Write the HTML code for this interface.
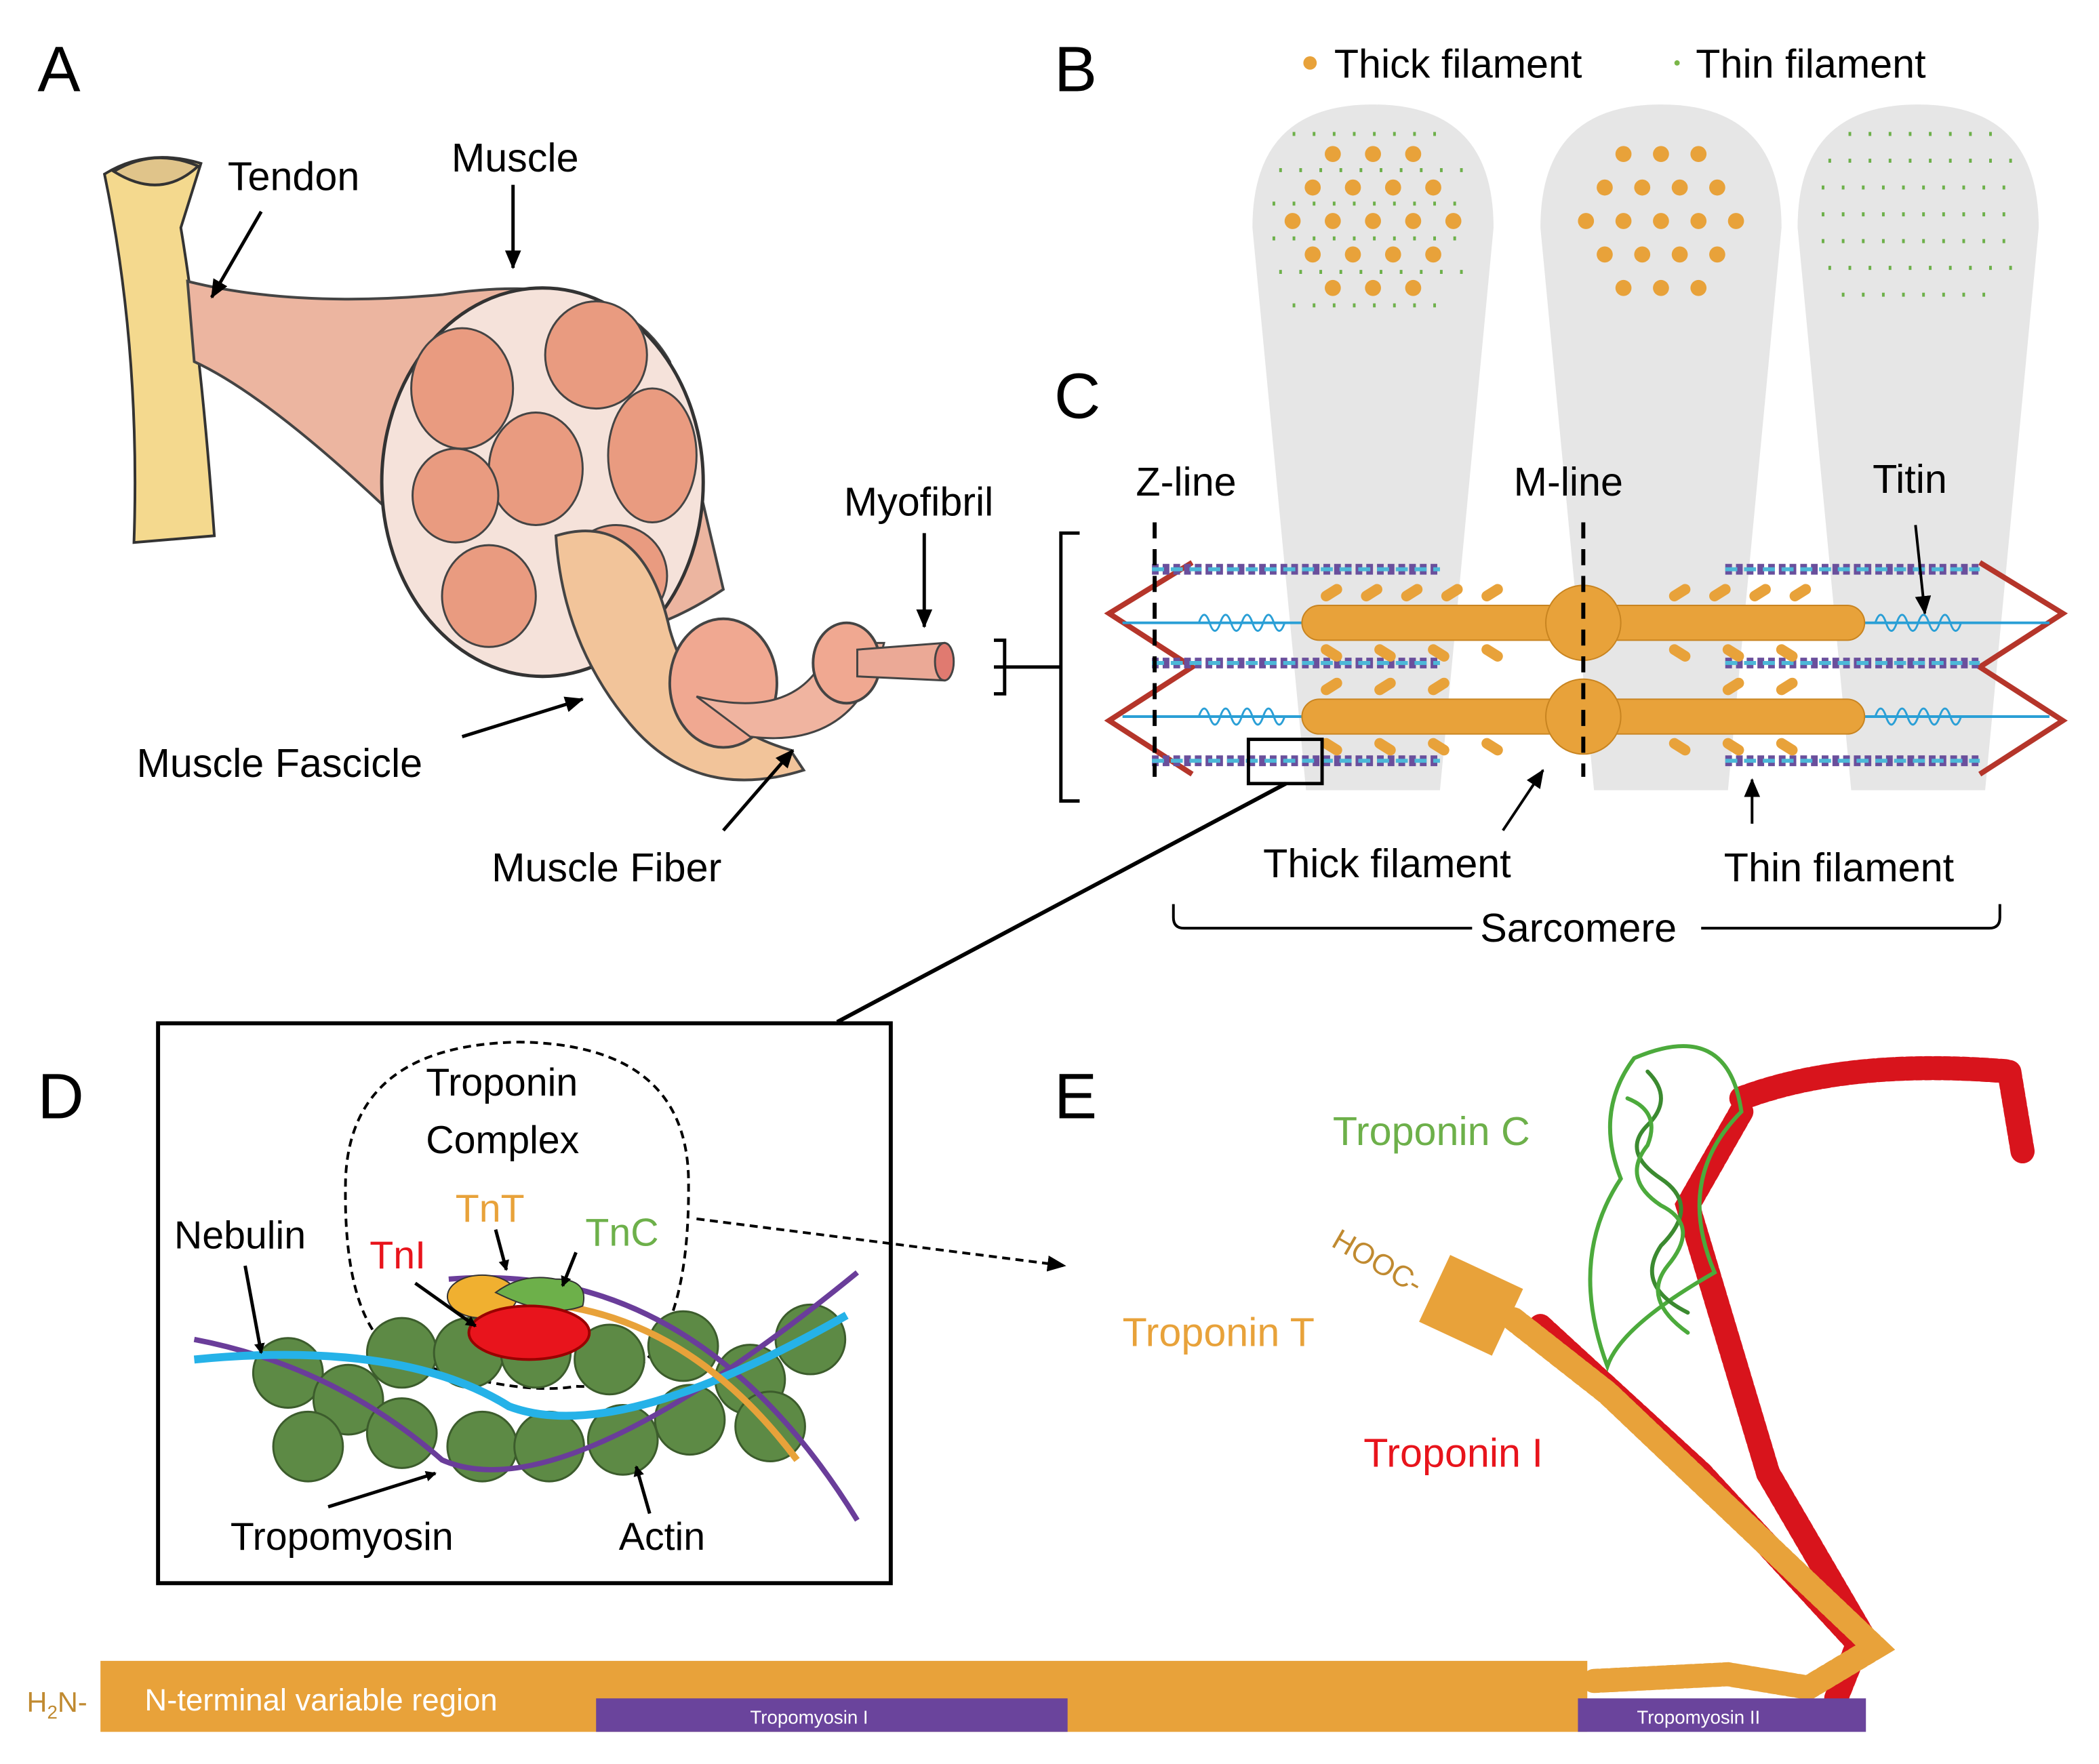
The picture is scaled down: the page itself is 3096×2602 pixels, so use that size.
<!DOCTYPE html>
<html><head><meta charset="utf-8"><style>html,body{margin:0;padding:0;background:#fff}svg{display:block}text{font-family:"Liberation Sans",sans-serif}</style></head><body>
<svg width="3096" height="2602" viewBox="0 0 1567 1317" preserveAspectRatio="none" xmlns="http://www.w3.org/2000/svg">
<defs>
<marker id="ar" markerWidth="8" markerHeight="8" refX="7" refY="4" orient="auto" markerUnits="userSpaceOnUse"><path d="M0,0L8,4L0,8z" fill="#000"/></marker>
<marker id="ar2" markerWidth="14" markerHeight="12" refX="13" refY="6" orient="auto" markerUnits="userSpaceOnUse"><path d="M0,0L14,6L0,12z" fill="#000"/></marker>
</defs>
<g font-size="48" fill="#000">
<text x="28" y="68">A</text><text x="787" y="68">B</text><text x="787" y="312">C</text><text x="28" y="835">D</text><text x="787" y="835">E</text></g>
<circle cx="978" cy="47" r="5" fill="#e8a23a"/><text x="996" y="58" font-size="30">Thick filament</text>
<circle cx="1252" cy="47" r="2" fill="#7ab648"/><text x="1266" y="58" font-size="30">Thin filament</text>
<g fill="#e6e6e6">
<path d="M935,170 Q935,78 1025,78 Q1115,78 1115,170 L1075,590 L975,590 Z"/>
<path d="M1150,170 Q1150,78 1240,78 Q1330,78 1330,170 L1290,590 L1190,590 Z"/>
<path d="M1342,170 Q1342,78 1432,78 Q1522,78 1522,170 L1482,590 L1382,590 Z"/>
</g>
<g fill="#e8a23a">
<circle cx="995" cy="115" r="6"/><circle cx="1025" cy="115" r="6"/><circle cx="1055" cy="115" r="6"/>
<circle cx="980" cy="140" r="6"/><circle cx="1010" cy="140" r="6"/><circle cx="1040" cy="140" r="6"/><circle cx="1070" cy="140" r="6"/>
<circle cx="965" cy="165" r="6"/><circle cx="995" cy="165" r="6"/><circle cx="1025" cy="165" r="6"/><circle cx="1055" cy="165" r="6"/><circle cx="1085" cy="165" r="6"/>
<circle cx="980" cy="190" r="6"/><circle cx="1010" cy="190" r="6"/><circle cx="1040" cy="190" r="6"/><circle cx="1070" cy="190" r="6"/>
<circle cx="995" cy="215" r="6"/><circle cx="1025" cy="215" r="6"/><circle cx="1055" cy="215" r="6"/>
<circle cx="1212" cy="115" r="6"/><circle cx="1240" cy="115" r="6"/><circle cx="1268" cy="115" r="6"/>
<circle cx="1198" cy="140" r="6"/><circle cx="1226" cy="140" r="6"/><circle cx="1254" cy="140" r="6"/><circle cx="1282" cy="140" r="6"/>
<circle cx="1184" cy="165" r="6"/><circle cx="1212" cy="165" r="6"/><circle cx="1240" cy="165" r="6"/><circle cx="1268" cy="165" r="6"/><circle cx="1296" cy="165" r="6"/>
<circle cx="1198" cy="190" r="6"/><circle cx="1226" cy="190" r="6"/><circle cx="1254" cy="190" r="6"/><circle cx="1282" cy="190" r="6"/>
<circle cx="1212" cy="215" r="6"/><circle cx="1240" cy="215" r="6"/><circle cx="1268" cy="215" r="6"/>
</g>
<path d="M965,100h120M955,127h140M950,152h150M950,178h150M955,203h140M965,228h120M1380,100h110M1365,120h140M1360,140h150M1360,160h150M1360,180h150M1365,200h140M1375,220h120" stroke="#6db04a" stroke-width="3" stroke-dasharray="2,13" fill="none"/>
<g fill="none">
<path d="M890,420 L828,458 L890,498 L828,538 L890,578" stroke="#b5352a" stroke-width="4"/>
<path d="M1478,420 L1540,458 L1478,498 L1540,538 L1478,578" stroke="#b5352a" stroke-width="4"/>
<path d="M838,465H1530M838,535H1530" stroke="#2a9fd6" stroke-width="2"/>
<path d="M860,425H1075M860,495H1075M860,568H1075M1288,425H1478M1288,495H1478M1288,568H1478" stroke="#6a4f9c" stroke-width="8" stroke-dasharray="5,3"/>
<path d="M860,425H1075M860,495H1075M860,568H1075M1288,425H1478M1288,495H1478M1288,568H1478" stroke="#4cb8d8" stroke-width="3" stroke-dasharray="9,5"/>
<g stroke="#2a9fd6" stroke-width="1.5"><path d="M895,465 q4,-12 8,0 q4,12 8,0 q4,-12 8,0 q4,12 8,0 q4,-12 8,0 q4,12 8,0 q4,-12 8,0 q4,12 8,0"/><path d="M895,535 q4,-12 8,0 q4,12 8,0 q4,-12 8,0 q4,12 8,0 q4,-12 8,0 q4,12 8,0 q4,-12 8,0 q4,12 8,0"/>
<path d="M1400,465 q4,-12 8,0 q4,12 8,0 q4,-12 8,0 q4,12 8,0 q4,-12 8,0 q4,12 8,0 q4,-12 8,0 q4,12 8,0"/><path d="M1400,535 q4,-12 8,0 q4,12 8,0 q4,-12 8,0 q4,12 8,0 q4,-12 8,0 q4,12 8,0 q4,-12 8,0 q4,12 8,0"/></g>
</g>
<g fill="#e8a23a" stroke="#c88420" stroke-width="1">
<rect x="972" y="452" width="420" height="26" rx="13"/><rect x="972" y="522" width="420" height="26" rx="13"/>
<circle cx="1182" cy="465" r="28"/><circle cx="1182" cy="535" r="28"/>
<path d="M990,445l8,-5M1020,445l8,-5M1050,445l8,-5M1080,445l8,-5M1110,445l8,-5M1250,445l8,-5M1280,445l8,-5M1310,445l8,-5M1340,445l8,-5M990,485l8,5M1030,485l8,5M1070,485l8,5M1110,485l8,5M1250,485l8,5M1290,485l8,5M1330,485l8,5M990,515l8,-5M1030,515l8,-5M1070,515l8,-5M1290,515l8,-5M1330,515l8,-5M990,555l8,5M1030,555l8,5M1070,555l8,5M1110,555l8,5M1250,555l8,5M1290,555l8,5M1330,555l8,5" stroke="#e8a23a" stroke-width="8" stroke-linecap="round"/>
</g>
<path d="M862,390V580M1182,390V580" stroke="#000" stroke-width="3" stroke-dasharray="12,8"/>
<rect x="932" y="552" width="55" height="33" fill="none" stroke="#000" stroke-width="2.5"/>
<path d="M806,398h-14v200h14M792,498h-50M742,478h8v40h-8" fill="none" stroke="#000" stroke-width="2.5"/>
<g font-size="30"><text x="848" y="370">Z-line</text><text x="1130" y="370">M-line</text><text x="1398" y="368">Titin</text>
<text x="943" y="655">Thick filament</text><text x="1287" y="658">Thin filament</text><text x="1105" y="703">Sarcomere</text></g>
<path d="M1430,392L1437,458" stroke="#000" stroke-width="2" marker-end="url(#ar2)"/>
<path d="M1122,620L1152,575" stroke="#000" stroke-width="2" marker-end="url(#ar2)"/>
<path d="M1308,615L1308,582" stroke="#000" stroke-width="2" marker-end="url(#ar2)"/>
<path d="M876,675v10q0,8 8,8h215M1270,693h215q8,0 8,-8v-10" fill="none" stroke="#000" stroke-width="2"/>
<path d="M78,130 Q110,110 150,122 L135,170 Q150,260 160,400 L100,405 Q105,260 78,130Z" fill="#f4d98e" stroke="#333" stroke-width="2"/>
<path d="M85,128 Q115,110 148,124 Q120,150 85,128Z" fill="#e0c48a" stroke="#333" stroke-width="2"/>
<path d="M140,210 Q220,230 330,220 Q460,200 500,270 L540,440 Q420,520 330,420 Q210,300 145,270Z" fill="#ecb5a0" stroke="#444" stroke-width="2"/>
<ellipse cx="405" cy="360" rx="120" ry="145" fill="#f5e2da" stroke="#333" stroke-width="2.5"/>
<g fill="#e99b80" stroke="#444" stroke-width="1.5">
<ellipse cx="345" cy="290" rx="38" ry="45"/><ellipse cx="445" cy="265" rx="38" ry="40"/><ellipse cx="400" cy="350" rx="35" ry="42"/><ellipse cx="487" cy="340" rx="33" ry="50"/><ellipse cx="340" cy="370" rx="32" ry="35"/><ellipse cx="365" cy="445" rx="35" ry="38"/><ellipse cx="460" cy="430" rx="38" ry="38"/></g>
<path d="M415,400 Q480,380 500,470 Q520,540 590,560 L600,575 Q520,600 470,540 Q420,480 415,400Z" fill="#f2c49a" stroke="#444" stroke-width="2"/>
<ellipse cx="540" cy="510" rx="40" ry="48" fill="#f0a891" stroke="#444" stroke-width="2"/>
<path d="M520,520 Q600,540 620,480 L660,480 Q640,560 560,550Z" fill="#f0b4a0" stroke="#444" stroke-width="1.5"/>
<ellipse cx="632" cy="495" rx="25" ry="30" fill="#f0a891" stroke="#444" stroke-width="2"/>
<path d="M640,485 L705,480 L705,508 L640,505Z" fill="#eba996" stroke="#444" stroke-width="1.5"/>
<ellipse cx="705" cy="494" rx="7" ry="14" fill="#e07a70" stroke="#444" stroke-width="1.5"/>
<g font-size="30"><text x="170" y="142">Tendon</text><text x="337" y="128">Muscle</text><text x="630" y="385">Myofibril</text><text x="102" y="580">Muscle Fascicle</text><text x="367" y="658">Muscle Fiber</text></g>
<g stroke="#000" stroke-width="2.5" fill="none">
<path d="M195,158L158,222" marker-end="url(#ar2)"/><path d="M383,138V200" marker-end="url(#ar2)"/><path d="M690,398V468" marker-end="url(#ar2)"/><path d="M345,550L435,522" marker-end="url(#ar2)"/><path d="M540,620L592,560" marker-end="url(#ar2)"/></g>
<path d="M960,585L625,763" stroke="#000" stroke-width="3"/>
<rect x="118" y="764" width="547" height="418" fill="none" stroke="#000" stroke-width="3"/>
<path d="M318,1020 Q255,1010 258,880 Q262,780 388,778 Q512,780 514,880 Q516,1040 430,1035 Q390,1042 318,1020Z" fill="none" stroke="#000" stroke-width="2" stroke-dasharray="6,4"/>
<g fill="#5d8a45" stroke="#3c5c2c" stroke-width="1.5">
<circle cx="215" cy="1025" r="26"/><circle cx="260" cy="1045" r="26"/><circle cx="300" cy="1010" r="26"/><circle cx="350" cy="1010" r="26"/><circle cx="400" cy="1010" r="26"/><circle cx="455" cy="1015" r="26"/><circle cx="510" cy="1005" r="26"/><circle cx="560" cy="1030" r="26"/><circle cx="605" cy="1000" r="26"/>
<circle cx="230" cy="1080" r="26"/><circle cx="300" cy="1070" r="26"/><circle cx="360" cy="1080" r="26"/><circle cx="410" cy="1080" r="26"/><circle cx="465" cy="1075" r="26"/><circle cx="515" cy="1060" r="26"/><circle cx="575" cy="1065" r="26"/></g>
<path d="M145,1000 Q250,1020 330,1090 Q420,1130 640,950" fill="none" stroke="#6a3d9a" stroke-width="4"/>
<path d="M335,955 Q520,940 640,1135" fill="none" stroke="#6a3d9a" stroke-width="4"/>
<path d="M145,1015 Q300,1000 380,1050 Q460,1080 632,982" fill="none" stroke="#25b2e8" stroke-width="6"/>
<path d="M420,975 Q520,990 595,1090" fill="none" stroke="#e8a23a" stroke-width="5"/>
<ellipse cx="360" cy="968" rx="26" ry="16" fill="#f0b030" stroke="#333"/>
<path d="M370,965 q20,-15 45,-10 q25,0 20,20 q-25,10 -65,-10z" fill="#6db04a" stroke="#333"/>
<ellipse cx="395" cy="995" rx="45" ry="20" fill="#e8141c" stroke="#900" stroke-width="2"/>
<g font-size="29"><text x="318" y="818">Troponin</text><text x="318" y="861">Complex</text><text x="340" y="912" fill="#e8a23a">TnT</text><text x="437" y="930" fill="#6db04a">TnC</text><text x="276" y="947" fill="#e8141c">TnI</text><text x="130" y="932">Nebulin</text><text x="172" y="1157">Tropomyosin</text><text x="462" y="1157">Actin</text></g>
<g stroke="#000" stroke-width="2.5" fill="none">
<path d="M183,945L195,1010" marker-end="url(#ar)"/><path d="M370,918L378,948" marker-end="url(#ar)"/><path d="M430,935L420,960" marker-end="url(#ar)"/><path d="M310,958L355,990" marker-end="url(#ar)"/><path d="M245,1125L325,1100" marker-end="url(#ar)"/><path d="M485,1130L475,1095" marker-end="url(#ar)"/></g>
<path d="M520,910L795,945" stroke="#000" stroke-width="2" stroke-dasharray="6,4" marker-end="url(#ar2)"/>
<g font-size="30"><text x="995" y="855" fill="#6db04a">Troponin C</text><text x="838" y="1005" fill="#e8a23a">Troponin T</text><text x="1018" y="1095" fill="#e8141c">Troponin I</text>
<text x="993" y="930" fill="#c08a30" font-size="22" transform="rotate(30 993 930)">HOOC-</text></g>
<rect x="1068" y="947" width="60" height="55" fill="#e8a23a" transform="rotate(25 1098 975)"/>
<g fill="none" stroke-linecap="round">
<path d="M1300,820 Q1380,790 1500,800 L1510,860" stroke="#d8141c" stroke-width="18" stroke-dasharray="4,3"/>
<path d="M1300,830 L1260,900 L1320,1100 L1390,1220 L1370,1270" stroke="#d8141c" stroke-width="18" stroke-dasharray="4,3"/>
<path d="M1150,990 L1270,1100 L1390,1230" stroke="#d8141c" stroke-width="18" stroke-dasharray="4,3"/>
<path d="M1130,985 L1200,1040 L1400,1230 L1350,1260 L1290,1250 L1190,1255" stroke="#e8a23a" stroke-width="18" stroke-dasharray="4,3"/>
<path d="M1220,790 Q1290,760 1300,830 Q1250,880 1280,950 Q1210,990 1200,1020 Q1170,940 1210,880 Q1190,830 1220,790Z" stroke="#4caa3c" stroke-width="3"/>
<path d="M1230,800 q20,20 0,40 q-20,20 10,40 q30,20 0,50 q-20,30 20,50" stroke="#3b8a30" stroke-width="3"/>
<path d="M1215,820 q25,10 15,35 q-20,25 10,45 q30,15 5,45 q-20,25 15,50" stroke="#4caa3c" stroke-width="3"/>
</g>
<rect x="75" y="1240" width="1110" height="53" fill="#e8a23a"/>
<rect x="445" y="1268" width="352" height="25" fill="#6a449c"/>
<rect x="1178" y="1268" width="215" height="25" fill="#6a449c"/>
<text x="20" y="1278" font-size="21" fill="#c08a30">H<tspan font-size="14" dy="5">2</tspan><tspan dy="-5">N-</tspan></text>
<text x="108" y="1277" font-size="23" fill="#fff">N-terminal variable region</text>
<text x="560" y="1287" font-size="14" fill="#fff">Tropomyosin I</text>
<text x="1222" y="1287" font-size="14" fill="#fff">Tropomyosin II</text>
</svg>
</body></html>
